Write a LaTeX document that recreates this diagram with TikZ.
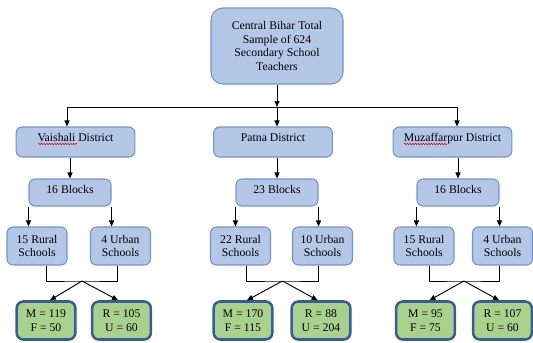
\documentclass[tikz,border=0pt]{standalone}
\usepackage{fontspec}
\setmainfont{Liberation Serif}
\usetikzlibrary{calc,arrows.meta,decorations.pathmorphing}
\definecolor{boxblue}{HTML}{B4C7E7}
\definecolor{edgeblue}{HTML}{7393C8}
\definecolor{boxgreen}{HTML}{A9D18E}
\definecolor{edgegreen}{HTML}{3A5A98}
\tikzset{
	bluebox/.style={draw=edgeblue, fill=boxblue, line width=0.8pt, rounded corners=4.5pt, align=center, inner sep=1pt, font=\fontsize{8.8}{10.2}\selectfont},
	greenbox/.style={draw=edgegreen, fill=boxgreen, line width=1.9pt, rounded corners=5pt, align=center, inner sep=1pt, minimum width=44pt, minimum height=28.5pt, font=\fontsize{8.8}{10.5}\selectfont},
	distbox/.style={bluebox, minimum width=89pt, minimum height=22.5pt, text height=6pt, text depth=7.5pt},
	blkbox/.style={bluebox, minimum width=61.5pt, minimum height=20.25pt, text height=6pt, text depth=3.8pt},
	schbox/.style={bluebox, minimum width=45pt, minimum height=28.5pt},
	link/.style={line width=0.7pt, -{Triangle[length=4.5pt,width=3.8pt]}},
	squiggle/.style={red!85!black, line width=0.4pt, decorate, decoration={snake, amplitude=0.5pt, segment length=2pt}},
}

\begin{document}
\begin{tikzpicture}[x=0.75pt, y=-0.75pt]
		%%%%% START %%%%%
		\useasboundingbox (0, 0) rectangle (533, 343);
		
		\node[bluebox, rounded corners=9pt, minimum width=99pt, minimum height=57pt] (top) at (277, 46) {Central Bihar Total\\Sample of 624\\Secondary School\\Teachers};
		
		\coordinate (busl) at (67, 107);
		\coordinate (busm) at (277, 107);
		\coordinate (busr) at (457, 107);
		
		% districts
		\node[distbox] (vdist) at (75.5, 142) {Vaishali District};
		\node[distbox] (pdist) at (273, 142) {Patna District};
		\node[distbox] (mdist) at (452.5, 142) {Muzaffarpur District};
		
		\draw[squiggle] ($(vdist.center)+(-37.5, 2)$) -- ($(vdist.center)+(1.5, 2)$);
		\draw[squiggle] ($(mdist.center)+(-48.5, 2)$) -- ($(mdist.center)+(-5.5, 2)$);
		
		% blocks
		\node[blkbox] (vblk) at (70, 192.5) {16 Blocks};
		\node[blkbox] (pblk) at (277, 192.5) {23 Blocks};
		\node[blkbox] (mblk) at (458, 192.5) {16 Blocks};
		
		% schools
		\node[schbox] (vrur) at (37, 246) {15 Rural\\Schools};
		\node[schbox] (vurb) at (120.5, 246) {4 Urban\\Schools};
		\node[schbox] (prur) at (240.5, 246) {22 Rural\\Schools};
		\node[schbox] (purb) at (322.5, 246) {10 Urban\\Schools};
		\node[schbox] (mrur) at (424, 246) {15 Rural\\Schools};
		\node[schbox] (murb) at (502.5, 246) {4 Urban\\Schools};
		
		% samples
		\node[greenbox] (vmf) at (46, 320.5) {M = 119\\F = 50};
		\node[greenbox] (vru) at (121.5, 320.5) {R = 105\\U = 60};
		\node[greenbox] (pmf) at (243, 320.5) {M = 170\\F = 115};
		\node[greenbox] (pru) at (321, 320.5) {R = 88\\U = 204};
		\node[greenbox] (mmf) at (425.5, 320.5) {M = 95\\F = 75};
		\node[greenbox] (mru) at (502.5, 320.5) {R = 107\\U = 60};
		
		\coordinate (vjn) at (82, 281);
		\coordinate (pjn) at (282.5, 281);
		\coordinate (mjn) at (464, 281);
		
		% top to districts
		\draw[link] (top) -- (busm);
		\draw[line width=0.7pt] (busl) -- (busr);
		\draw[link] (busl) -- (busl |- vdist.north);
		\draw[link] (busm) -- (busm |- pdist.north);
		\draw[link] (busr) -- (busr |- mdist.north);
		
		% districts to blocks
		\draw[link] (vblk.north |- vdist.south) -- (vblk.north);
		\draw[link] (pblk.north |- pdist.south) -- (pblk.north);
		\draw[link] (mblk.north |- mdist.south) -- (mblk.north);
		
		% blocks to schools
		\draw[link] (vblk.south west) -- (vblk.south west |- vrur.north);
		\draw[link] (vblk.south east) -- (vblk.south east |- vurb.north);
		\draw[link] (pblk.south west) -- (pblk.south west |- prur.north);
		\draw[link] (pblk.south east) -- (pblk.south east |- purb.north);
		\draw[link] (mblk.south west) -- (mblk.south west |- mrur.north);
		\draw[link] (mblk.south east) -- (mblk.south east |- murb.north);
		
		% schools to samples
		\draw[line width=0.7pt] ([xshift=7pt]vrur.south) |- (vjn) -| ([xshift=-2.6pt]vurb.south);
		\draw[line width=0.7pt] ([xshift=4.6pt]prur.south) |- (pjn) -| ([xshift=-3.4pt]purb.south);
		\draw[line width=0.7pt] ([xshift=3.8pt]mrur.south) |- (mjn) -| ([xshift=-2.6pt]murb.south);
		
		\draw[link] (vjn) -- ([xshift=3pt]vmf.north);
		\draw[link] (vjn) -- ([xshift=-2.6pt]vru.north);
		\draw[link] (pjn) -- ([xshift=3pt]pmf.north);
		\draw[link] (pjn) -- ([xshift=-2.6pt]pru.north);
		\draw[link] (mjn) -- ([xshift=3pt]mmf.north);
		\draw[link] (mjn) -- ([xshift=-2.6pt]mru.north);
		
		%%%%% END %%%%%
\end{tikzpicture}
\end{document}
